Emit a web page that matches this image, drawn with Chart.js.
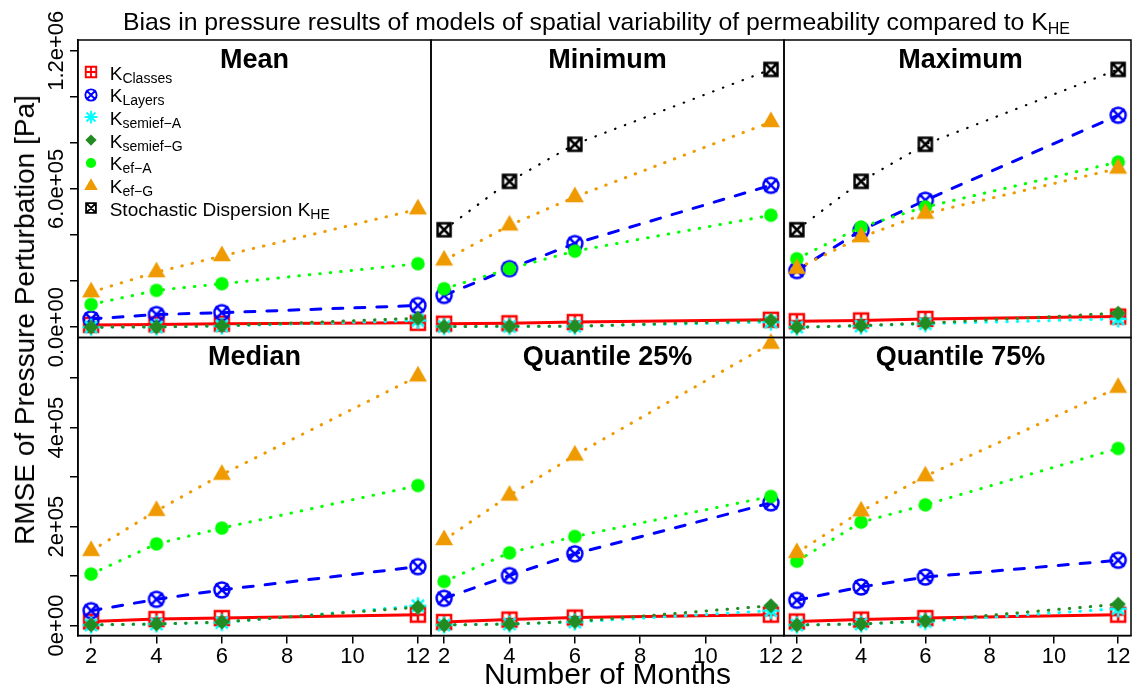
<!DOCTYPE html>
<html>
<head>
<meta charset="utf-8">
<script src="https://cdn.jsdelivr.net/npm/chart.js@4.4.1/dist/chart.umd.min.js"></script>
<style>
  body { margin: 0; background: #fff; }
  #wrap { position: relative; width: 1142px; height: 688px; overflow: hidden;
          font-family: "Liberation Sans", Arial, sans-serif; color: #000; }
  #wrap canvas.panel { position: absolute; left: 0; top: 0; pointer-events: none; }
  .txt { position: absolute; white-space: nowrap; line-height: 1; }
  .sub { position: relative; }
</style>
</head>
<body>
<div id="wrap"></div>
<script>
// x values (number of months)
const months = [2, 4, 6, 12];
const panelTitles = ["Mean", "Minimum", "Maximum", "Median", "Quantile 25%", "Quantile 75%"];

// one row per panel: Mean, Minimum, Maximum, Median, Quantile 25%, Quantile 75%
const kClasses = [
  [10000, 12000, 15000, 19000],
  [15000, 17000, 22000, 32000],
  [26000, 29000, 36000, 46000],
  [8000, 13000, 15000, 22000],
  [7000, 12000, 16000, 22000],
  [8000, 12000, 15000, 22000]
];
const kLayers = [
  [36000, 55000, 63000, 94000],
  [138000, 254000, 363000, 616000],
  [246000, 420000, 551000, 920000],
  [30000, 53000, 72000, 119000],
  [55000, 101000, 145000, 248000],
  [51000, 78000, 98000, 132000]
];
const kSemiefA = [
  [0, 1000, 5000, 29000],
  [3000, 3000, 4000, 22000],
  [0, 5000, 15000, 36000],
  [1000, 3000, 6000, 40000],
  [1000, 3000, 7000, 30000],
  [1000, 3000, 8000, 34000]
];
const kSemiefG = [
  [0, 1000, 6000, 39000],
  [3000, 4000, 4000, 29000],
  [0, 7000, 17000, 61000],
  [1400, 3000, 7000, 37000],
  [1000, 3000, 8000, 40000],
  [1000, 3000, 9500, 43000]
];
const kEfA = [
  [98700, 159600, 188700, 275600],
  [167000, 254000, 330000, 486000],
  [297000, 435000, 522000, 717000],
  [104000, 165000, 197000, 283000],
  [89000, 147000, 180000, 261000],
  [130000, 209000, 244000, 358000]
];
const kEfG = [
  [152000, 239000, 309000, 512000],
  [290000, 442000, 565000, 891000],
  [254000, 391000, 493000, 689000],
  [151000, 232000, 305000, 504000],
  [173000, 263000, 344000, 570000],
  [147000, 231000, 302000, 481000]
];
const kHE = [
  null,
  [423000, 633000, 794000, 1119000],
  [423000, 633000, 794000, 1119000],
  null,
  null,
  null
];

const xTicks = [2, 4, 6, 8, 10, 12];
const topTicks = [0, 200000, 400000, 600000, 800000, 1000000, 1200000];
const topLabelValues = [0, 600000, 1200000];
const topLabels = ["0.0e+00", "6.0e+05", "1.2e+06"];
const botTicks = [0, 100000, 200000, 300000, 400000, 500000];
const botLabelValues = [0, 200000, 400000];
const botLabels = ["0e+00", "2e+05", "4e+05"];

const FONT = '"Liberation Sans", Arial, sans-serif';
Chart.defaults.color = "#000";
Chart.defaults.font.family = FONT;

// R-like plotting symbols drawn on small canvases
function makeSymbol(kind, color, k) {
  const size = Math.round(24 * k);
  const c = document.createElement("canvas");
  c.width = size; c.height = size;
  const g = c.getContext("2d");
  const m = size / 2;
  g.strokeStyle = color;
  g.fillStyle = color;
  g.lineWidth = 2.5 * k;
  g.beginPath();
  if (kind === "squarePlus") {
    const h = 7 * k;
    g.rect(m - h, m - h, 2 * h, 2 * h);
    g.moveTo(m, m - h); g.lineTo(m, m + h);
    g.moveTo(m - h, m); g.lineTo(m + h, m);
    g.stroke();
  } else if (kind === "circleX") {
    const r = 7.5 * k, d = 6.3 * k;
    g.arc(m, m, r, 0, Math.PI * 2);
    g.moveTo(m - d, m - d); g.lineTo(m + d, m + d);
    g.moveTo(m - d, m + d); g.lineTo(m + d, m - d);
    g.stroke();
  } else if (kind === "asterisk") {
    const r = 8.5 * k, d = 6 * k;
    g.moveTo(m, m - r); g.lineTo(m, m + r);
    g.moveTo(m - r, m); g.lineTo(m + r, m);
    g.moveTo(m - d, m - d); g.lineTo(m + d, m + d);
    g.moveTo(m - d, m + d); g.lineTo(m + d, m - d);
    g.stroke();
  } else if (kind === "diamond") {
    const r = 7.5 * k;
    g.moveTo(m, m - r); g.lineTo(m + r, m); g.lineTo(m, m + r); g.lineTo(m - r, m);
    g.closePath(); g.fill();
  } else if (kind === "dot") {
    g.arc(m, m, 6.8 * k, 0, Math.PI * 2);
    g.fill();
  } else if (kind === "triangle") {
    const r = 10.4 * k;
    g.moveTo(m, m - r); g.lineTo(m + r * 0.866, m + r / 2); g.lineTo(m - r * 0.866, m + r / 2);
    g.closePath(); g.fill();
  } else if (kind === "squareX") {
    const h = 6.5 * k;
    g.rect(m - h, m - h, 2 * h, 2 * h);
    g.moveTo(m - h, m - h); g.lineTo(m + h, m + h);
    g.moveTo(m - h, m + h); g.lineTo(m + h, m - h);
    g.stroke();
  }
  return c;
}

const series = [
  { label: "K", sub: "Classes", data: kClasses, color: "#FF0000", sym: "squarePlus", dash: [], width: 3 },
  { label: "K", sub: "Layers", data: kLayers, color: "#0000FF", sym: "circleX", dash: [10, 12], width: 3 },
  { label: "K", sub: "semief\u2212A", data: kSemiefA, color: "#00FFFF", sym: "asterisk", dash: [0.5, 10], width: 3 },
  { label: "K", sub: "semief\u2212G", data: kSemiefG, color: "#228B22", sym: "diamond", dash: [0.5, 10], width: 3 },
  { label: "K", sub: "ef\u2212A", data: kEfA, color: "#00FF00", sym: "dot", dash: [0.5, 10], width: 3 },
  { label: "K", sub: "ef\u2212G", data: kEfG, color: "#EE9A00", sym: "triangle", dash: [0.5, 10], width: 3 },
  { label: "Stochastic Dispersion K", sub: "HE", data: kHE, color: "#000000", sym: "squareX", dash: [0.5, 10], width: 2.2 }
];

const wrap = document.getElementById("wrap");
const W = 1142, H = 688;
const colX = [78, 431, 784, 1137];
const rowY = [40, 337.5, 635.5];
const yAxisW = 8, xAxisH = 40;

// box round each panel and y tick labels written along the axis, like R
const panelBox = {
  id: "panelBox",
  afterDraw(chart, args, opts) {
    const ctx = chart.ctx, a = chart.chartArea;
    ctx.save();
    ctx.strokeStyle = "#000";
    ctx.lineWidth = 1.5;
    ctx.strokeRect(a.left, a.top, a.right - a.left, a.bottom - a.top);
    if (opts.values) {
      const ys = chart.scales.y;
      ctx.font = "22px " + FONT;
      ctx.fillStyle = "#000";
      ctx.textAlign = "center";
      ctx.textBaseline = "alphabetic";
      opts.values.forEach((v, i) => {
        ctx.save();
        ctx.translate(a.left - 14.7, ys.getPixelForValue(v));
        ctx.rotate(-Math.PI / 2);
        ctx.fillText(opts.labels[i], 0, 0);
        ctx.restore();
      });
    }
    ctx.restore();
  }
};

panelTitles.forEach((title, p) => {
  const col = p % 3, row = Math.floor(p / 3);
  const showY = col === 0, showX = row === 1;
  const canvas = document.createElement("canvas");
  canvas.width = W; canvas.height = H;
  canvas.className = "panel";
  wrap.appendChild(canvas);

  const datasets = [];
  series.forEach((s, i) => {
    if (!s.data[p]) return;
    datasets.push({
      data: months.map((m, j) => ({ x: m, y: s.data[p][j] })),
      borderColor: s.color,
      borderWidth: s.width,
      borderDash: s.dash,
      borderCapStyle: "round",
      pointStyle: makeSymbol(s.sym, s.color, 1),
      pointRadius: 8,
      tension: 0,
      fill: false,
      clip: false,
      order: series.length - i
    });
  });

  const yTicks = row === 0 ? topTicks : botTicks;
  new Chart(canvas, {
    type: "line",
    data: { datasets },
    options: {
      responsive: false,
      animation: false,
      devicePixelRatio: 1,
      events: [],
      layout: {
        padding: {
          left: colX[col] - (showY ? yAxisW : 0),
          right: W - colX[col + 1],
          top: rowY[row],
          bottom: H - rowY[row + 1] - (showX ? xAxisH : 0)
        }
      },
      plugins: {
        legend: { display: false },
        tooltip: { enabled: false },
        panelBox: showY
          ? { values: row === 0 ? topLabelValues : botLabelValues, labels: row === 0 ? topLabels : botLabels }
          : {}
      },
      scales: {
        x: {
          type: "linear",
          min: 1.6,
          max: 12.4,
          display: showX,
          afterBuildTicks: s => { s.ticks = xTicks.map(v => ({ value: v })); },
          afterFit: s => { s.height = showX ? xAxisH : 0; },
          grid: { drawOnChartArea: false, drawTicks: true, tickLength: 8, color: "#000", lineWidth: 1.5 },
          border: { display: true, color: "#000", width: 1.5 },
          ticks: { font: { size: 22 }, padding: 0, autoSkip: false, maxRotation: 0, color: "#000" }
        },
        y: {
          type: "linear",
          min: row === 0 ? -44800 : -20200,
          max: row === 0 ? 1246600 : 582400,
          display: showY,
          afterBuildTicks: s => { s.ticks = yTicks.map(v => ({ value: v })); },
          afterFit: s => { s.width = showY ? yAxisW : 0; },
          grid: { drawOnChartArea: false, drawTicks: true, tickLength: 8, color: "#000", lineWidth: 1.5 },
          border: { display: true, color: "#000", width: 1.5 },
          ticks: { display: false }
        }
      }
    },
    plugins: [panelBox]
  });

  // panel heading
  const t = document.createElement("div");
  t.className = "txt";
  t.style.font = "bold 27px " + FONT;
  t.style.left = ((colX[col] + colX[col + 1]) / 2) + "px";
  t.style.top = (rowY[row] + 26.7 - 22.9) + "px";
  t.style.transform = "translateX(-50%)";
  t.textContent = title;
  wrap.appendChild(t);
});

// main title
const mainTitle = document.createElement("div");
mainTitle.className = "txt";
mainTitle.style.font = "24.8px " + FONT;
mainTitle.style.left = "123px";
mainTitle.style.top = "8.3px";
mainTitle.innerHTML = 'Bias in pressure results of models of spatial variability of permeability compared to K<span class="sub" style="font-size:16px;top:4px">HE</span>';
wrap.appendChild(mainTitle);

// axis titles
const xTitle = document.createElement("div");
xTitle.className = "txt";
xTitle.style.font = "30px " + FONT;
xTitle.style.left = "607.5px";
xTitle.style.top = "656.6px";
xTitle.style.transform = "translateX(-50%)";
xTitle.textContent = "Number of Months";
wrap.appendChild(xTitle);

const yTitle = document.createElement("div");
yTitle.className = "txt";
yTitle.style.font = "28px " + FONT;
yTitle.style.left = "25.3px";
yTitle.style.top = "320px";
yTitle.style.transform = "translate(-50%, -50%) rotate(-90deg)";
yTitle.textContent = "RMSE of Pressure Perturbation [Pa]";
wrap.appendChild(yTitle);

// legend inside the Mean panel
series.forEach((s, i) => {
  const cy = 72 + 22.7 * i;
  const sym = makeSymbol(s.sym, s.color, 0.75);
  sym.style.position = "absolute";
  sym.style.left = (90.7 - sym.width / 2) + "px";
  sym.style.top = (cy - sym.height / 2) + "px";
  wrap.appendChild(sym);
  const lab = document.createElement("div");
  lab.className = "txt";
  lab.style.font = "19px " + FONT;
  lab.style.left = "109.7px";
  lab.style.top = (cy + 6.7 - 16.1) + "px";
  lab.innerHTML = s.label + '<span class="sub" style="font-size:14px;top:3px">' + s.sub + "</span>";
  wrap.appendChild(lab);
});
</script>
</body>
</html>
